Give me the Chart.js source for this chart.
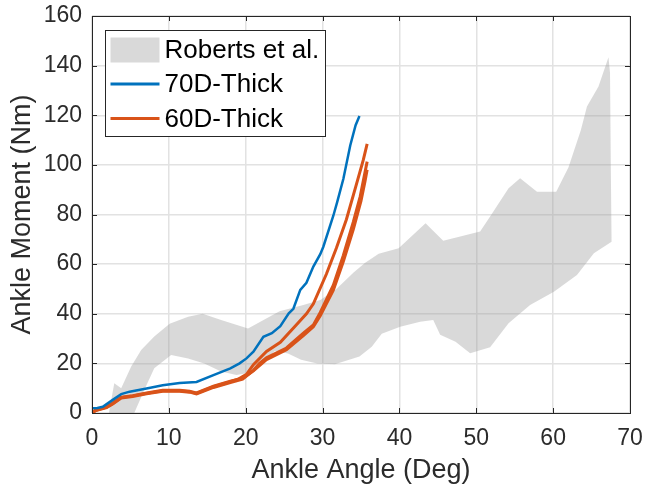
<!DOCTYPE html>
<html>
<head>
<meta charset="utf-8">
<script src="https://cdn.jsdelivr.net/npm/chart.js@4.4.1/dist/chart.umd.min.js"></script>
<style>
  html, body { margin: 0; padding: 0; background: #fff; }
</style>
</head>
<body>
<canvas id="ankleChart" width="654" height="490"></canvas>
<script>
// values (angle in deg, moment in Nm)
const bandUpperX = [2.2, 2.9, 3.8, 5.1, 6.4, 8.1, 10.1, 12.5, 14.4, 16.8, 20.3, 24.4, 27.5, 29.7, 31.8, 34.0, 35.5, 37.3, 39.9, 43.4, 45.7, 50.5, 51.8, 54.2, 55.7, 57.9, 60.4, 62.0, 63.6, 64.4, 65.9, 67.2, 67.4, 67.5, 67.6];
const bandUpperY = [0, 12, 10, 18.7, 25.4, 30.8, 36, 38.8, 40, 37.5, 34.1, 41, 43.5, 45.5, 50, 56.5, 60.5, 64.2, 66.4, 76.5, 69.4, 73.1, 79.2, 90.6, 94.6, 89.2, 89.2, 99, 114, 123.5, 131.6, 143.4, 137, 100.7, 69];
const bandLowerX = [2.2, 5.5, 6.8, 8.1, 10.3, 12.5, 14.6, 16.8, 18.8, 20.1, 22.5, 23.8, 25.5, 27.2, 29.3, 31.6, 34.8, 36.4, 37.7, 40.1, 42.7, 44.4, 45.3, 47.3, 49.2, 51.8, 54.2, 57.0, 60.1, 63.1, 65.3, 67.6];
const bandLowerY = [0, 0, 9.3, 18, 23.4, 22, 20, 16.7, 15.3, 16, 21, 25, 24, 21.5, 20, 19.6, 22.8, 26.7, 31.9, 34.8, 36.8, 37.5, 31.5, 28.7, 24.1, 26.5, 36.2, 43.5, 48.9, 55.6, 64.4, 69];

const thick70X = [0, 0.7, 1.4, 2.7, 3.8, 4.9, 7.1, 9.2, 11.4, 13.6, 15.8, 18.0, 19.2, 20.1, 21.0, 22.3, 23.4, 24.5, 25.6, 26.2, 27.1, 27.9, 28.8, 29.7, 30.1, 31.4, 31.9, 32.7, 33.6, 34.3, 34.8];
const thick70Y = [1.9, 2.0, 2.5, 5.3, 7.6, 8.6, 9.9, 11.2, 12.1, 12.5, 15.3, 18, 20, 22, 24.7, 30.7, 32.2, 35, 40.2, 42, 49.6, 52.5, 59, 64, 67, 79.5, 85, 94.3, 107.8, 116, 119.7];

const thick60aX = [0, 0.5, 1.9, 2.7, 3.8, 5.3, 7.1, 9.2, 11.4, 12.7, 13.6, 15.8, 18.0, 19.0, 20.1, 21.0, 22.7, 24.5, 26.6, 27.9, 28.8, 30.5, 31.8, 33.1, 34.3, 35.3, 35.8];
const thick60aY = [0, 1.1, 2.4, 3.8, 6.2, 6.9, 7.9, 9.0, 9.0, 8.6, 7.9, 10.6, 12.6, 13.6, 15.6, 19.5, 24.8, 28.5, 35.6, 40, 44, 56, 66.5, 78, 91, 102, 108.5];
const thick60bX = [0, 0.5, 1.9, 2.7, 3.8, 5.3, 7.1, 9.2, 11.4, 12.7, 13.6, 15.8, 18.0, 19.6, 21.0, 21.8, 22.7, 25.3, 27.5, 28.8, 29.7, 31.4, 32.7, 34.0, 34.9, 35.5, 35.8];
const thick60bY = [0, 1.0, 2.2, 3.6, 6.0, 6.6, 7.7, 8.8, 8.8, 8.4, 7.7, 10.3, 12.3, 13.6, 17.2, 20, 22.3, 26.2, 32.2, 35.5, 40.5, 51.5, 63.5, 77, 87.3, 96.7, 101.3];
const thick60cX = [0, 0.5, 1.9, 2.7, 3.8, 5.3, 7.1, 9.2, 11.4, 12.7, 13.6, 15.8, 18.0, 19.6, 21.0, 22.7, 25.3, 27.5, 28.8, 29.7, 31.4, 32.7, 34.0, 35.0, 35.5, 35.8];
const thick60cY = [0.3, 1.3, 2.6, 4.0, 6.4, 7.0, 8.1, 9.2, 9.2, 8.8, 8.1, 10.8, 12.8, 14.0, 17.0, 21.5, 25.5, 31.2, 34.8, 39.2, 49.5, 61, 74, 85.5, 93, 98];

const xTicks = [0, 10, 20, 30, 40, 50, 60, 70];
const yTicks = [0, 20, 40, 60, 80, 100, 120, 140, 160];

const BLUE = '#0072BD';
const ORANGE = '#D95319';
const BAND = 'rgba(160,160,160,0.4)';
const TXT = '#2b2b2b';
const FONT = '"Liberation Sans", Arial, Helvetica, sans-serif';

Chart.defaults.font.family = FONT;
Chart.defaults.color = TXT;

const pts = (xs, ys) => xs.map((x, i) => ({ x: x, y: ys[i] }));

// band polygon: upper edge left->right, lower edge back right->left
const bandPoly = pts(bandUpperX, bandUpperY).concat(pts(bandLowerX, bandLowerY).reverse());

function lineSet(label, xs, ys, color, w) {
  return { label: label, data: pts(xs, ys), showLine: true, borderColor: color, backgroundColor: color,
    borderWidth: w, pointRadius: 0, fill: false, tension: 0 };
}

// box round the axes, ticks pointing inward
const frame = {
  id: 'frame',
  afterDraw(chart) {
    const { ctx, chartArea: a, scales } = chart;
    ctx.save();
    ctx.strokeStyle = '#262626';
    ctx.lineWidth = 1;
    ctx.beginPath();
    xTicks.forEach(v => {
      const p = Math.round(scales.x.getPixelForValue(v)) + 0.5;
      ctx.moveTo(p, a.bottom); ctx.lineTo(p, a.bottom - 5);
      ctx.moveTo(p, a.top); ctx.lineTo(p, a.top + 5);
    });
    yTicks.forEach(v => {
      const p = Math.round(scales.y.getPixelForValue(v)) + 0.5;
      ctx.moveTo(a.left, p); ctx.lineTo(a.left + 5, p);
      ctx.moveTo(a.right, p); ctx.lineTo(a.right - 5, p);
    });
    ctx.stroke();
    ctx.strokeRect(Math.round(a.left) + 0.5, Math.round(a.top) + 0.5, Math.round(a.right - a.left), Math.round(a.bottom - a.top));
    ctx.restore();
  }
};

// matlab style legend box in upper left corner, band entry first
const boxLegend = {
  id: 'boxLegend',
  afterDraw(chart) {
    const { ctx, chartArea: a } = chart;
    const bx = Math.round(a.left + 13) + 0.5, by = Math.round(a.top + 14) + 0.5;
    const bw = 220, bh = 106;
    ctx.save();
    ctx.fillStyle = '#fff';
    ctx.fillRect(bx, by, bw, bh);
    ctx.strokeStyle = '#262626';
    ctx.lineWidth = 1;
    ctx.strokeRect(bx, by, bw, bh);
    const items = chart.data.datasets.filter(d => d.inLegend).sort((p, q) => (q.fill ? 1 : 0) - (p.fill ? 1 : 0));
    ctx.font = '26px ' + FONT;
    ctx.textBaseline = 'middle';
    ctx.textAlign = 'left';
    items.forEach((d, i) => {
      const cy = by + 19 + i * 34.5;
      if (d.fill) {
        ctx.fillStyle = '#d9d9d9';
        ctx.fillRect(bx + 5, cy - 12, 49, 25);
      } else {
        ctx.strokeStyle = d.borderColor;
        ctx.lineWidth = 3;
        ctx.beginPath();
        ctx.moveTo(bx + 5, cy); ctx.lineTo(bx + 54, cy);
        ctx.stroke();
      }
      ctx.fillStyle = '#000';
      ctx.fillText(d.label, bx + 59, cy + 1);
    });
    ctx.restore();
  }
};

const ds70 = lineSet('70D-Thick', thick70X, thick70Y, BLUE, 2.5);
ds70.inLegend = true;
const ds60a = lineSet('60D-Thick', thick60aX, thick60aY, ORANGE, 3);
ds60a.inLegend = true;
const ds60b = lineSet('60D-Thick', thick60bX, thick60bY, ORANGE, 3);
const ds60c = lineSet('60D-Thick', thick60cX, thick60cY, ORANGE, 3);
const dsBand = { label: 'Roberts et al.', data: bandPoly, showLine: true, fill: 'shape',
  backgroundColor: BAND, borderColor: 'rgba(0,0,0,0)', borderWidth: 0, pointRadius: 0, tension: 0, inLegend: true };

new Chart(document.getElementById('ankleChart'), {
  type: 'scatter',
  data: { datasets: [ds70, ds60a, ds60b, ds60c, dsBand] },
  options: {
    responsive: false,
    animation: false,
    events: [],
    layout: { padding: { top: 16, right: 24, left: 0, bottom: 0 } },
    plugins: {
      legend: { display: false },
      tooltip: { enabled: false }
    },
    scales: {
      x: {
        type: 'linear', min: 0, max: 70,
        afterBuildTicks: s => { s.ticks = xTicks.map(v => ({ value: v })); },
        afterFit: s => { s.height = 77; s.paddingLeft = 0; s.paddingRight = 0; },
        ticks: { font: { size: 23 }, color: TXT, padding: 12, maxRotation: 0 },
        grid: { color: '#e2e2e2', lineWidth: 1.5, drawTicks: false },
        border: { display: false },
        title: { display: true, text: 'Ankle Angle (Deg)', font: { size: 27 }, color: TXT, padding: { top: 0, bottom: 3 } }
      },
      y: {
        type: 'linear', min: 0, max: 160,
        afterBuildTicks: s => { s.ticks = yTicks.map(v => ({ value: v })); },
        afterFit: s => { s.width = 92; s.paddingTop = 0; s.paddingBottom = 0; },
        ticks: { font: { size: 23 }, color: TXT, padding: 10 },
        grid: { color: '#e2e2e2', lineWidth: 1.5, drawTicks: false },
        border: { display: false },
        title: { display: true, text: 'Ankle Moment (Nm)', font: { size: 27 }, color: TXT, padding: { top: 6, bottom: 0 } }
      }
    }
  },
  plugins: [frame, boxLegend]
});
</script>
</body>
</html>
